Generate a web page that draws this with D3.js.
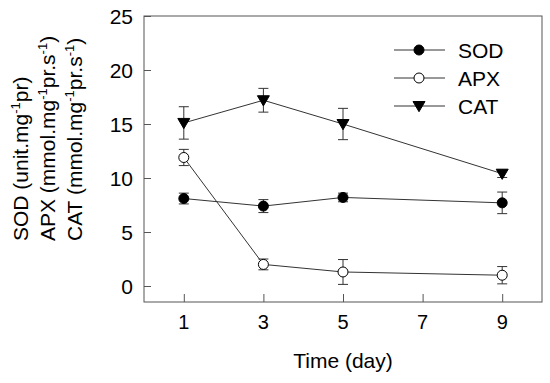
<!DOCTYPE html>
<html>
<head>
<meta charset="utf-8">
<script src="https://cdn.jsdelivr.net/npm/d3@7"></script>
<style>
    body { margin: 0; background: #fff; }
    svg { font-family: "Liberation Sans", Arial, sans-serif; }
</style>
</head>
<body>
<svg id="chart" width="550" height="383"></svg>
<script>
// data
var days = [1, 3, 5, 9];
var sodMean = [8.1, 7.4, 8.2, 7.7];
var sodErr = [0.5, 0.6, 0.4, 1.0];
var apxMean = [11.9, 2.0, 1.3, 1.0];
var apxErr = [0.75, 0.5, 1.15, 0.8];
var catMean = [15.1, 17.2, 15.0, 10.4];
var catErr = [1.5, 1.1, 1.45, 0.35];
var xTicks = [1, 3, 5, 7, 9];
var yTicks = [0, 5, 10, 15, 20, 25];
var seriesNames = ['SOD', 'APX', 'CAT'];

(function () {
    var svg = d3.select('#chart');
    var pL = 144, pT = 16, pR = 542, pB = 302;

    var x = d3.scaleLinear().domain([0, 10]).range([pL, pR]);
    var y = d3.scaleLinear().domain([-1.48, 25]).range([pB, pT]);

    var series = [
        {name: 'SOD', mean: sodMean, err: sodErr, shape: 'circle', fill: '#000'},
        {name: 'APX', mean: apxMean, err: apxErr, shape: 'circle', fill: '#fff'},
        {name: 'CAT', mean: catMean, err: catErr, shape: 'tri', fill: '#000'}
    ];

    // frame
    svg.append('rect')
        .attr('x', pL).attr('y', pT)
        .attr('width', pR - pL).attr('height', pB - pT)
        .attr('fill', 'none').attr('stroke', '#555').attr('stroke-width', 1);

    // axes, ticks pointing inward
    svg.append('g')
        .attr('transform', 'translate(' + pL + ',0)')
        .call(d3.axisRight(y).tickValues(yTicks).tickSize(7).tickFormat(''));
    svg.append('g')
        .attr('transform', 'translate(0,' + pB + ')')
        .call(d3.axisTop(x).tickValues(xTicks).tickSize(8).tickFormat(''));
    svg.selectAll('.domain').remove();
    svg.selectAll('.tick line').attr('stroke', '#555');

    svg.selectAll('.ylab').data(yTicks).enter().append('text')
        .attr('class', 'ylab')
        .attr('x', 133).attr('y', function (d) { return y(d); })
        .attr('dy', '0.36em')
        .attr('text-anchor', 'end')
        .attr('font-size', 21)
        .text(function (d) { return d; });

    svg.selectAll('.xlab').data(xTicks).enter().append('text')
        .attr('class', 'xlab')
        .attr('x', function (d) { return x(d); }).attr('y', 329)
        .attr('text-anchor', 'middle')
        .attr('font-size', 20)
        .text(function (d) { return d; });

    svg.append('text')
        .attr('x', 343).attr('y', 368)
        .attr('text-anchor', 'middle')
        .attr('font-size', 21)
        .text('Time (day)');

    // y axis title, three rotated lines with superscripts
    var yTitle = [
        [['SOD (unit.mg', 0], ['-1', 1], ['pr)', 0]],
        [['APX (mmol.mg', 0], ['-1', 1], ['pr.s', 0], ['-1', 1], [')', 0]],
        [['CAT (mmol.mg', 0], ['-1', 1], ['pr.s', 0], ['-1', 1], [')', 0]]
    ];
    yTitle.forEach(function (parts, i) {
        var t = svg.append('text')
            .attr('transform', 'translate(' + (28 + i * 27) + ',241) rotate(-90)')
            .attr('font-size', 21);
        parts.forEach(function (p) {
            t.append('tspan')
                .attr('font-size', p[1] ? 13 : 21)
                .attr('baseline-shift', p[1] ? '60%' : null)
                .text(p[0]);
        });
    });

    var symCircle = d3.symbol().type(d3.symbolCircle).size(Math.PI * 25);
    function triPath(s) {
        return 'M' + (-s) + ',' + (-s * 0.75) + 'L' + s + ',' + (-s * 0.75) + 'L0,' + (s * 0.95) + 'Z';
    }

    var line = d3.line()
        .x(function (d) { return x(d.day); })
        .y(function (d) { return y(d.v); });

    series.forEach(function (s) {
        var pts = days.map(function (d, i) { return {day: d, v: s.mean[i], e: s.err[i]}; });
        svg.append('path')
            .datum(pts)
            .attr('d', line)
            .attr('fill', 'none')
            .attr('stroke', '#333')
            .attr('stroke-width', 1);

        var g = svg.append('g');
        pts.forEach(function (p) {
            var cx = x(p.day);
            g.append('line').attr('x1', cx).attr('x2', cx)
                .attr('y1', y(p.v - p.e)).attr('y2', y(p.v + p.e))
                .attr('stroke', '#333');
            [p.v - p.e, p.v + p.e].forEach(function (v) {
                g.append('line').attr('x1', cx - 5).attr('x2', cx + 5)
                    .attr('y1', y(v)).attr('y2', y(v))
                    .attr('stroke', '#333');
            });
        });
        g.selectAll('path').data(pts).enter().append('path')
            .attr('transform', function (d) { return 'translate(' + x(d.day) + ',' + y(d.v) + ')'; })
            .attr('d', s.shape === 'tri' ? triPath(6) : symCircle())
            .attr('fill', s.fill)
            .attr('stroke', '#000')
            .attr('stroke-width', 1);
    });

    // legend
    var legend = svg.append('g');
    series.forEach(function (s, i) {
        var ly = 50 + i * 28;
        legend.append('line').attr('x1', 394).attr('x2', 445)
            .attr('y1', ly).attr('y2', ly).attr('stroke', '#333');
        legend.append('path')
            .attr('transform', 'translate(419,' + ly + ')')
            .attr('d', s.shape === 'tri' ? triPath(6) : symCircle())
            .attr('fill', s.fill).attr('stroke', '#000');
        legend.append('text')
            .attr('x', 458).attr('y', ly)
            .attr('dy', '0.36em')
            .attr('font-size', 21)
            .text(seriesNames[i]);
    });
})();
</script>
</body>
</html>
